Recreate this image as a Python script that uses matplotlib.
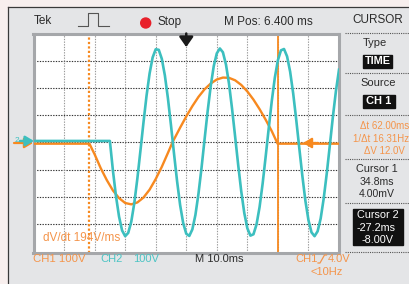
import matplotlib
matplotlib.use('Agg')
import matplotlib.pyplot as plt
from matplotlib.patches import Rectangle, Circle

plt.rcParams['font.family'] = ['Liberation Sans', 'DejaVu Sans']

# time in ms (0 = trigger / screen centre), amplitude in divisions
ch1_t = [-50, -31.7, -30, -28, -26, -24, -22, -20, -18, -16, -14, -12, -10, -8, -6, -4.5,
         -4, -2, 0, 2, 4, 6, 8, 10, 12, 14, 16, 18, 20, 22, 24, 26, 28, 29.9, 50]
ch1_v = [-0.05, -0.05, -0.44, -0.95, -1.39, -1.77, -2.05, -2.23, -2.28, -2.21, -2.03, -1.74, -1.35, -0.90, -0.39, 0.0,
         0.11, 0.54, 0.95, 1.33, 1.67, 1.95, 2.16, 2.31, 2.38, 2.37, 2.28, 2.11, 1.87, 1.57, 1.22, 0.83, 0.41, -0.05, -0.05]

ch2_t = [-50] + list(range(-25, 51))
ch2_v = [0.05, 0.05, -1.04, -1.98, -2.73, -3.24, -3.45, -3.33, -2.92, -2.23, -1.33, -0.31,
         0.73, 1.71, 2.53, 3.12, 3.42, 3.40, 3.07, 2.46, 1.62, 0.63,
         -0.42, -1.43, -2.31, -2.97, -3.36, -3.44, -3.20, -2.67, -1.89, -0.94,
         0.11, 1.14, 2.06, 2.80, 3.27, 3.45, 3.31, 2.86, 2.15, 1.23, 0.21,
         -0.83, -1.80, -2.60, -3.16, -3.43, -3.38, -3.02, -2.38, -1.52, -0.52,
         0.52, 1.52, 2.38, 3.02, 3.38, 3.43, 3.16, 2.60, 1.80, 0.83,
         -0.21, -1.23, -2.15, -2.86, -3.31, -3.45, -3.27, -2.80, -2.06, -1.14, -0.11,
         0.94, 1.89, 2.67]

cursor1_t = 29.9
cursor2_t = -31.7
trig_t = 0

ORANGE = '#f7891f'
CYAN = '#3cbfbf'
TXT_OR = '#f4944a'
TXT_CY = '#4cc4c4'
DARK = '#2b2b2b'

W, H = 410, 284
fig = plt.figure(figsize=(4.1, 2.84), dpi=100)
fig.patch.set_facecolor('#e4e5e7')

# background strips
bg = fig.add_axes([0, 0, 1, 1], zorder=-1)
bg.set_xlim(0, W); bg.set_ylim(H, 0); bg.axis('off')
bg.add_patch(Rectangle((0, 0), W, 7, color='#f8efee'))
bg.add_patch(Rectangle((0, 0), 8, H, color='#f8efee'))
bg.plot([8, W], [7, 7], color='#3a3a3a', lw=0.9)
bg.plot([8, 8], [7, H], color='#3a3a3a', lw=0.9)

# graticule
ax = fig.add_axes([33.5 / W, 1 - 252.5 / H, 305.5 / W, 219 / H])
ax.set_xlim(-50, 50)
ax.set_ylim(-4.05, 4.0)
ax.set_xticks([]); ax.set_yticks([])
for s in ax.spines.values():
    s.set_color('#a5a7aa')
    s.set_linewidth(2.2)
for k in range(-3, 4):
    ax.axhline(k, color='#333333', lw=0.8, ls=(0, (1.2, 1.2)), zorder=1)
for k in range(-40, 41, 10):
    ax.axvline(k, color='#9a9a9a', lw=0.8, ls=(0, (1.2, 1.2)), zorder=1)

ax.axvline(cursor2_t, color=ORANGE, lw=1.6, ls=(0, (1, 1)), zorder=2)
ax.axvline(cursor1_t, color=ORANGE, lw=1.3, zorder=2)

ax.plot(ch1_t, ch1_v, color=ORANGE, lw=1.7, zorder=3, solid_joinstyle='round')
ax.plot(ch2_t, ch2_v, color=CYAN, lw=1.9, zorder=4, solid_joinstyle='round')

ax.annotate('', xy=(trig_t, 3.5), xytext=(trig_t, 4.0),
            arrowprops=dict(arrowstyle='-|>,head_width=0.35,head_length=0.5', color='#1a1a1a',
                            lw=1.8, mutation_scale=12, shrinkA=0, shrinkB=0), zorder=6)

# overlay for text
top = fig.add_axes([0, 0, 1, 1], zorder=5)
top.set_xlim(0, W); top.set_ylim(H, 0); top.axis('off')
top.patch.set_alpha(0)

# ground markers
top.annotate('', xy=(33, 143), xytext=(14, 143),
             arrowprops=dict(arrowstyle='-|>,head_width=0.3,head_length=0.5', color=ORANGE, lw=1.6,
                             mutation_scale=10, shrinkA=0, shrinkB=0))
top.annotate('', xy=(34, 141), xytext=(20, 141),
             arrowprops=dict(arrowstyle='-|>,head_width=0.3,head_length=0.5', color=CYAN, lw=1.8,
                             mutation_scale=10, shrinkA=0, shrinkB=0))
top.text(17, 141, '2', color=CYAN, fontsize=6, ha='center', va='center')
top.annotate('', xy=(303, 143), xytext=(318, 143),
             arrowprops=dict(arrowstyle='-|>,head_width=0.3,head_length=0.5', color=ORANGE, lw=1.6,
                             mutation_scale=10, shrinkA=0, shrinkB=0))

# header
top.text(34, 21, 'Tek', fontsize=8.5, color=DARK, va='center')
top.plot([78, 88, 88, 98, 98, 109], [25.7, 25.7, 13.3, 13.3, 25.7, 25.7], color='#555555', lw=0.8)
top.add_patch(Circle((145.7, 23), 5, color='#e8202a'))
top.text(158, 22, 'Stop', fontsize=8.5, color=DARK, va='center')
top.text(268, 22, 'M Pos: 6.400 ms', fontsize=8.5, color=DARK, va='center', ha='center')
top.text(378, 20, 'CURSOR', fontsize=8.5, color=DARK, va='center', ha='center')

# right panel
for y in [32.5, 72.7, 115, 159.3, 202.7, 251.7]:
    top.plot([345, W], [y, y], color='#555555', lw=0.8, ls=(0, (1, 1)))
top.text(375, 43, 'Type', fontsize=8, color=DARK, ha='center', va='center')
top.add_patch(Rectangle((363, 55), 29, 12.5, color='#111111'))
top.text(377.5, 61.5, 'TIME', fontsize=7.8, color='white', weight='bold', ha='center', va='center')
top.text(378.5, 83, 'Source', fontsize=8, color=DARK, ha='center', va='center')
top.add_patch(Rectangle((363, 95), 32, 12.5, color='#111111'))
top.text(379, 101.5, 'CH 1', fontsize=8, color='white', weight='bold', ha='center', va='center')
top.text(384.5, 126, '\u0394t 62.00ms', fontsize=7, color=TXT_OR, ha='center', va='center')
top.text(381, 139, '1/\u0394t 16.31Hz', fontsize=7, color=TXT_OR, ha='center', va='center')
top.text(384.5, 151, '\u0394V 12.0V', fontsize=7, color=TXT_OR, ha='center', va='center')
top.text(377, 169, 'Cursor 1', fontsize=7.8, color=DARK, ha='center', va='center')
top.text(376.5, 182, '34.8ms', fontsize=7.6, color=DARK, ha='center', va='center')
top.text(377, 194, '4.00mV', fontsize=7.6, color=DARK, ha='center', va='center')
top.add_patch(Rectangle((353, 209), 50, 36, color='#111111'))
top.text(377.5, 215, 'Cursor 2', fontsize=7.8, color='white', ha='center', va='center')
top.text(376.5, 228, '-27.2ms', fontsize=7.8, color='white', ha='center', va='center')
top.text(377.5, 240, '-8.00V', fontsize=7.8, color='white', ha='center', va='center')

# bottom readouts
top.text(43, 238, 'dV/dt 194V/ms', fontsize=8.5, color=TXT_OR, va='center')
top.text(33, 259, 'CH1 100V', fontsize=8.2, color=TXT_OR, va='center')
top.text(100, 259, 'CH2', fontsize=8, color=TXT_CY, va='center')
top.text(133, 259, '100V', fontsize=8, color=TXT_CY, va='center')
top.text(195, 259, 'M 10.0ms', fontsize=8, color=DARK, va='center')
top.text(295, 259, 'CH1', fontsize=8, color=TXT_OR, va='center')
top.plot([318, 320, 324.5, 326.5], [263, 263, 255, 255], color=TXT_OR, lw=0.9)
top.text(328, 259, '4.0V', fontsize=8, color=TXT_OR, va='center')
top.text(311, 272, '<10Hz', fontsize=8, color=TXT_OR, va='center')

fig.savefig('out.png', dpi=100, facecolor=fig.get_facecolor())
